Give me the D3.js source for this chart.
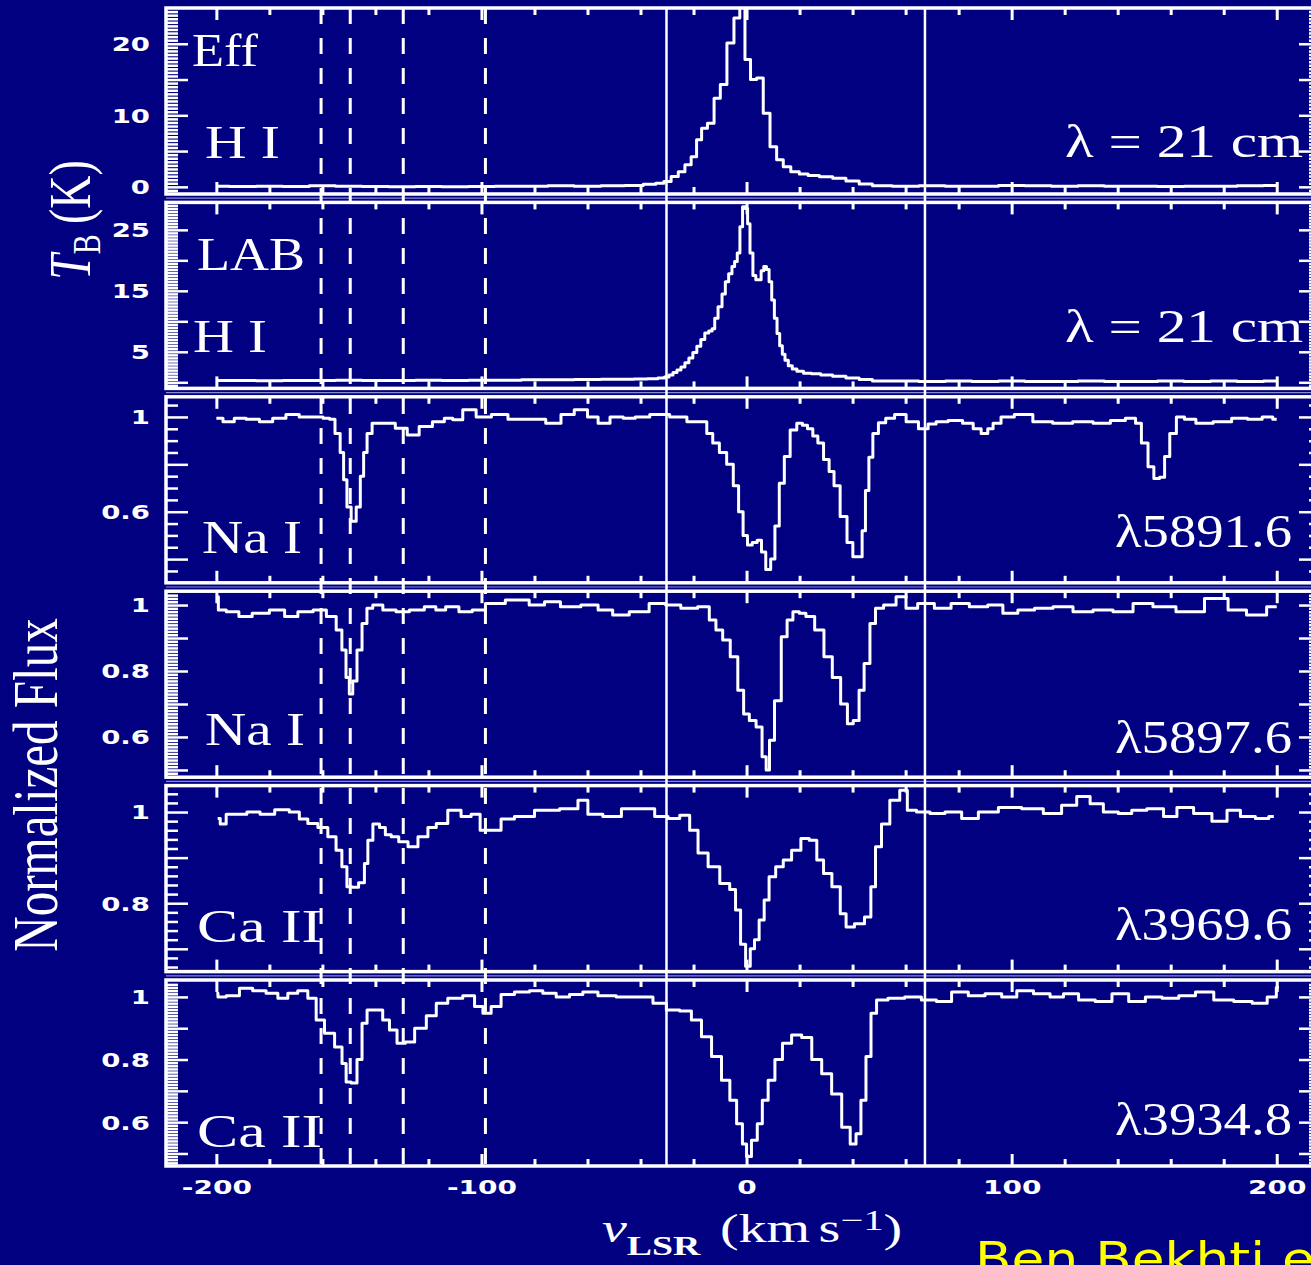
<!DOCTYPE html>
<html>
<head>
<meta charset="utf-8">
<script src="https://cdn.jsdelivr.net/npm/d3@7"></script>
<style>
  body { margin: 0; background: #000080; }
  svg { display: block; }
</style>
</head>
<body>
<svg width="1311" height="1265"></svg>
<script>
// ---- data: [v_LSR (km/s), value] ----
const effHI = [[-200,0.1],[-190,0.05],[-180,0.1],[-170,0.05],[-160,0.15],[-150,0.1],[-140,0.05],[-130,0],[-120,0.05],[-110,0],[-100,0.05],[-90,0.1],[-80,0.1],[-70,0.15],[-60,0.1],[-50,0.15],[-42,0.2],[-36,0.35],[-32.5,0.5],[-29.9,0.74],[-27,1.44],[-24.5,2.1],[-22,3.1],[-19.8,4.2],[-17.9,6.6],[-16,8.2],[-13.5,8.9],[-11,12.4],[-8.8,14.3],[-6,20.1],[-3.5,23.6],[-1.6,26],[0.4,17.8],[2.6,15],[5,15.2],[7.6,10.3],[10.1,5.6],[12.6,3.8],[15.1,2.8],[18.3,2.1],[21.5,1.8],[25,1.6],[30,1.4],[35,1.2],[40,0.8],[45,0.4],[50,0.15],[60,0.1],[70,0.15],[80,0.1],[90,0.1],[100,0.2],[110,0.15],[120,0.1],[130,0.15],[140,0.1],[150,0.1],[160,0.05],[170,0.1],[180,0.1],[190,0.15],[200,0.2]];

const labHI = [[-200,0.3],[-190,0.3],[-180,0.25],[-170,0.3],[-160,0.3],[-150,0.35],[-140,0.3],[-130,0.3],[-120,0.35],[-110,0.3],[-100,0.35],[-90,0.35],[-80,0.4],[-70,0.4],[-60,0.45],[-50,0.5],[-45,0.5],[-40,0.55],[-35,0.6],[-32,0.7],[-30,0.85],[-28.5,1.2],[-27,1.6],[-25.5,2.0],[-24,2.5],[-22.5,3.2],[-21,4.0],[-19.5,4.9],[-18,5.9],[-16.5,7.0],[-15,8.1],[-13.5,8.4],[-12.5,8.8],[-11.5,10.5],[-10,12.4],[-8.5,14.5],[-7.5,16.5],[-6,17.8],[-5,19.0],[-4,19.8],[-3,21.2],[-2,25.5],[-1,28.8],[0,28.5],[0.8,26],[1.8,21.2],[3,17.5],[4,16.8],[5,16.8],[6,18.3],[7,19.0],[8,18.5],[9,16.5],[10,13.5],[11,10.5],[12,8.0],[13,6.0],[14,4.6],[15,3.6],[16.5,2.7],[18,2.2],[20,1.8],[23,1.5],[26,1.4],[30,1.2],[35,1.0],[40,0.7],[45,0.45],[50,0.2],[60,0.2],[70,0.15],[80,0.2],[90,0.15],[100,0.2],[110,0.15],[120,0.15],[130,0.2],[140,0.15],[150,0.15],[160,0.2],[170,0.15],[180,0.2],[190,0.15],[200,0.2]];

const naD2 = [[-200,0.995],[-195,0.98],[-191.5,0.995],[-186,0.99],[-181.5,0.98],[-176,0.995],[-171.5,1.01],[-166,1.0],[-161.5,1.0],[-158,0.995],[-156.5,0.99],[-154,0.93],[-152.6,0.85],[-151.4,0.735],[-150.1,0.62],[-148.2,0.56],[-146.3,0.62],[-145.1,0.75],[-143.8,0.85],[-142.5,0.93],[-140,0.973],[-135,0.973],[-130,0.952],[-126,0.924],[-121,0.96],[-116,0.98],[-112,0.995],[-109.6,0.988],[-104.5,1.03],[-99.5,1.0],[-93,1.01],[-87,0.99],[-79.5,0.99],[-72,0.973],[-68,1.01],[-62,1.03],[-58,1.0],[-54,0.973],[-49,1.0],[-44,0.995],[-40,1.0],[-33,1.01],[-25,1.0],[-20,0.98],[-16,0.98],[-14,0.93],[-11.5,0.89],[-9,0.85],[-6,0.8],[-4,0.71],[-2,0.6],[-0.6,0.5],[1.3,0.46],[3,0.47],[5,0.48],[6.3,0.43],[8.2,0.356],[10,0.4],[11.4,0.54],[13.3,0.72],[15.2,0.833],[17.7,0.945],[20.2,0.973],[22,0.965],[24,0.95],[26,0.92],[27.8,0.89],[30.3,0.82],[32,0.77],[34,0.71],[36.6,0.58],[39.2,0.47],[41,0.41],[43,0.41],[44.2,0.52],[45.5,0.69],[46.8,0.83],[48.5,0.93],[51,0.975],[54,0.995],[57.7,1.01],[62.7,0.98],[67,0.95],[70,0.97],[73,0.98],[79,0.985],[84,0.973],[87,0.95],[90,0.93],[92,0.95],[94,0.973],[98,1.0],[104,1.01],[112,0.98],[119,0.973],[127,0.98],[134.5,0.973],[140,0.985],[145.8,0.995],[147.7,0.973],[150.2,0.89],[152.7,0.79],[154.6,0.74],[157,0.745],[158.4,0.833],[160.9,0.93],[163.4,1.0],[167,0.99],[172,0.973],[180,0.98],[186,0.995],[192,0.99],[197,1.0],[200,0.99]];

const naD1 = [[-200,1.025],[-198.5,0.985],[-194,0.98],[-189,0.965],[-184,0.975],[-176,0.985],[-172.5,0.965],[-166,0.98],[-161,0.985],[-156,0.965],[-153.6,0.924],[-151.7,0.864],[-150.5,0.78],[-149.2,0.73],[-147.9,0.77],[-146,0.864],[-144.1,0.944],[-142.3,0.99],[-139.7,1.0],[-134.7,0.985],[-129.7,0.98],[-124.7,0.985],[-118.4,0.995],[-116,0.985],[-111,0.995],[-106,0.98],[-101,0.985],[-96,1.005],[-86,1.015],[-78,1.0],[-74.4,1.01],[-66,0.995],[-59,1.0],[-53,0.985],[-48,0.97],[-40.5,0.98],[-33,1.005],[-28,1.0],[-21.6,0.99],[-15.3,0.995],[-12.8,0.955],[-10.3,0.924],[-7.7,0.894],[-4.6,0.843],[-2,0.742],[-0.2,0.67],[2.3,0.65],[4.9,0.63],[6.8,0.54],[8,0.5],[9.3,0.59],[11.8,0.71],[14.4,0.904],[16.2,0.955],[18.8,0.98],[21,0.975],[23.8,0.965],[27.6,0.924],[30.8,0.843],[33.9,0.78],[37.1,0.7],[39,0.64],[41.5,0.65],[43.4,0.742],[45.3,0.823],[47.8,0.944],[49.5,0.99],[53.9,1.0],[58.9,1.025],[61.4,0.99],[67.7,1.005],[74,0.99],[80.3,1.005],[87.8,0.995],[94.2,1.0],[99.2,0.975],[105.5,0.985],[111.8,0.99],[119.4,0.995],[126.9,0.98],[134.5,0.985],[142,0.98],[149.6,1.005],[157,0.995],[167,0.98],[178.5,1.02],[184.8,0.985],[192.4,0.97],[200,0.995]];

const caH = [[-199.5,0.986],[-197.6,0.974],[-195,0.995],[-191,0.995],[-186,1.0],[-181,0.995],[-175,1.005],[-170,1.0],[-167.4,0.985],[-163.6,0.975],[-159.8,0.966],[-156.1,0.946],[-153.6,0.916],[-151.7,0.88],[-149.8,0.836],[-147.9,0.835],[-144.8,0.845],[-143.5,0.887],[-142.2,0.938],[-139.7,0.974],[-137.2,0.966],[-135.3,0.95],[-132.8,0.946],[-129.6,0.935],[-125.8,0.924],[-122.1,0.946],[-118.3,0.966],[-115.8,0.975],[-109.6,1.004],[-105.8,0.99],[-102,0.995],[-99,0.96],[-94.5,0.96],[-90.7,0.985],[-84.4,0.99],[-75.6,1.004],[-65.5,1.007],[-61.7,1.026],[-58,0.995],[-50.4,0.99],[-44,1.007],[-37.8,1.007],[-31.5,0.99],[-27.7,0.986],[-22.7,0.993],[-20.2,0.96],[-16.4,0.91],[-12.6,0.88],[-7.6,0.843],[-5.1,0.83],[-3.2,0.785],[-1.3,0.71],[0.6,0.662],[2.2,0.7],[3.8,0.72],[5.7,0.763],[7.6,0.807],[9.4,0.858],[12.6,0.88],[15.1,0.895],[18.9,0.916],[22.1,0.942],[25.2,0.938],[27.8,0.895],[30.3,0.865],[34.1,0.836],[36.6,0.777],[38.5,0.748],[42.9,0.755],[46.1,0.77],[47.7,0.836],[49.6,0.924],[52.2,0.974],[55.9,1.026],[59.7,1.048],[61.6,1.004],[66.7,1.0],[71.7,0.997],[78,1.0],[84.3,0.986],[90.6,1.0],[99.4,1.01],[108.2,1.007],[115.7,0.997],[122,1.015],[127.1,1.034],[132.1,1.018],[137.1,1.0],[143.4,0.997],[147.2,1.004],[154.8,1.007],[159.8,0.99],[164.9,1.01],[172.4,0.997],[178.7,0.98],[183.8,1.004],[188.8,0.99],[195.1,0.986],[198.9,0.99]];

const caK = [[-200,1.012],[-198.8,1.0],[-193.8,1.004],[-188.8,1.028],[-183.8,1.02],[-178.7,1.012],[-174.9,0.996],[-171.2,1.012],[-167.4,1.02],[-163.6,0.996],[-161.1,0.926],[-157.3,0.884],[-153.5,0.84],[-151.7,0.787],[-150.4,0.728],[-147.9,0.725],[-146,0.8],[-144.1,0.916],[-142.2,0.958],[-138.5,0.958],[-136,0.926],[-133.4,0.894],[-130.3,0.852],[-127.1,0.856],[-123.3,0.9],[-118.3,0.94],[-115.8,0.98],[-109.6,0.996],[-104.5,1.004],[-100.7,0.969],[-98.2,0.948],[-94.5,0.969],[-90.7,1.008],[-84.4,1.016],[-79.4,1.02],[-74.3,1.012],[-69.3,1.0],[-64.3,1.008],[-59.2,1.016],[-52.9,1.004],[-45.4,1.0],[-37.8,1.0],[-32.8,0.98],[-27.7,0.958],[-22.7,0.955],[-18.9,0.926],[-15.1,0.873],[-11.3,0.81],[-7.6,0.734],[-5,0.67],[-2.5,0.595],[-0.6,0.53],[0.6,0.49],[3.1,0.542],[5,0.595],[6.9,0.67],[9.4,0.734],[12,0.8],[15.1,0.852],[18.9,0.878],[22.7,0.87],[26.5,0.8],[30.2,0.755],[34,0.69],[37.8,0.584],[40.4,0.53],[42.2,0.563],[44.1,0.67],[46,0.81],[47.9,0.948],[50.2,0.99],[56.5,0.996],[62.8,1.0],[69.1,0.99],[74.2,0.985],[80.5,1.016],[86.8,1.004],[93.1,1.01],[99.4,1.0],[104.5,1.02],[112,1.01],[117,1.0],[122.1,1.01],[128.4,0.99],[134.7,0.985],[141,1.01],[147.3,0.985],[153.6,1.0],[159.9,0.996],[166.2,1.004],[172.5,1.016],[180,0.99],[187.6,0.985],[193.9,0.98],[198.9,1.0],[200.8,1.03]];

// panel texts
const leftNames = [["Eff", "H I"], ["LAB", "H I"], ["Na I"], ["Na I"], ["Ca II"], ["Ca II"]];
const rightNames = ["λ = 21 cm", "λ = 21 cm", "λ5891.6", "λ5897.6", "λ3969.6", "λ3934.8"];

// y ticks (major) and the ones that carry a label
const yMajor = [[0, 5, 10, 15, 20], [0, 5, 10, 15, 20, 25], [0.4, 0.6, 0.8, 1], [0.5, 0.6, 0.7, 0.8, 0.9, 1], [0.7, 0.8, 0.9, 1], [0.5, 0.6, 0.7, 0.8, 0.9, 1]];
const yLabelled = [[0, 10, 20], [5, 15, 25], [0.6, 1], [0.6, 0.8, 1], [0.8, 1], [0.6, 0.8, 1]];

const xMajor = [-200, -100, 0, 100, 200];
const xMinor = [-180, -160, -140, -120, -80, -60, -40, -20, 20, 40, 60, 80, 120, 140, 160, 180];

// velocity markers
const solidMarks = [-30.2, 67.3];
const dashedMarks = [-160.5, -149.5, -129.5, -98.5];

// ---- layout ----
var svg = d3.select("svg");
var width = +svg.attr("width");
var height = +svg.attr("height");
var WHITE = "#ffffff";
var SERIF = "'Liberation Serif', 'Times New Roman', serif";
var TICKFONT = "'DejaVu Sans', sans-serif";

var x0 = 166, x1 = 1321;
var panelTop0 = 8, panelStep = 194.4, panelH = 186;

var panels = [
    {data: effHI, domain: [-1, 25], minor: 0.5},
    {data: labHI, domain: [-1, 29.5], minor: 0.5},
    {data: naD2, domain: [0.3, 1.085], minor: 0.05},
    {data: naD1, domain: [0.478, 1.042], minor: 0.01},
    {data: caH, domain: [0.65, 1.058], minor: 0.02},
    {data: caK, domain: [0.46, 1.054], minor: 0.01}
];

// where the in-panel names sit: [x, baseline, width]
var leftPos = [[[192, 66, 66], [205, 158, 75]], [[197, 270, 108], [193, 352, 74]], [[202, 553, 100]], [[205, 745, 100]], [[197, 942, 125]], [[197, 1147, 125]]];
var rightPos = [[1065, 157, 238], [1065, 342, 238], [1115, 547, 177], [1115, 753, 177], [1115, 940, 177], [1115, 1135, 177]];

svg.append("rect")
    .attr("width", width)
    .attr("height", height)
    .attr("fill", "#000080");

var x = d3.scaleLinear().domain([-219, 216.7]).range([x0, x1]);

var fmtTick = d => d < 0 ? "-" + (-d) : String(d);

// thin lavender seams between the panels
for (var i = 0; i < panels.length - 1; i++) {
    var ys = panelTop0 + i * panelStep + panelH + (panelStep - panelH) / 2;
    svg.append("line")
        .attr("x1", x0).attr("x2", x1)
        .attr("y1", ys).attr("y2", ys)
        .attr("stroke", "#8a8ad4")
        .attr("stroke-width", 1.2);
}

var defs = svg.append("defs");

panels.forEach(function (p, i) {
    var top = panelTop0 + i * panelStep;
    var bottom = top + panelH;
    var y = d3.scaleLinear().domain(p.domain).range([bottom, top]);

    defs.append("clipPath")
        .attr("id", "clip" + i)
        .append("rect")
        .attr("x", x0).attr("y", top)
        .attr("width", x1 - x0).attr("height", panelH);

    var g = svg.append("g").attr("class", "panel");

    // spectrum
    var line = d3.line()
        .x(d => x(d[0]))
        .y(d => y(d[1]))
        .curve(d3.curveStep);

    g.append("path")
        .datum(p.data)
        .attr("clip-path", "url(#clip" + i + ")")
        .attr("d", line)
        .attr("fill", "none")
        .attr("stroke", WHITE)
        .attr("stroke-width", 3)
        .attr("stroke-linejoin", "round");

    // minor y ticks (skip majors and the frame edges)
    var lo = Math.ceil(p.domain[0] / p.minor), hi = Math.floor(p.domain[1] / p.minor);
    var minor = d3.range(lo, hi + 1)
        .map(k => +(k * p.minor).toFixed(4))
        .filter(v => !yMajor[i].some(t => Math.abs(t - v) < 1e-6))
        .filter(v => y(v) > top + 2 && y(v) < bottom - 2);
    var major = yMajor[i].filter(v => y(v) > top + 2 && y(v) < bottom - 2);

    function yAxis(axisFn, xpos, vals, size, labelled) {
        var a = g.append("g")
            .attr("transform", "translate(" + xpos + ",0)")
            .style("color", WHITE)
            .call(axisFn(y).tickValues(vals).tickSize(-size)
                .tickFormat(d => labelled && yLabelled[i].some(t => Math.abs(t - d) < 1e-6) ? fmtTick(d) : ""));
        // the axis sets its own font, override afterwards
        a.attr("font-family", TICKFONT)
            .attr("font-weight", "bold")
            .attr("font-size", 19);
        a.select(".domain").remove();
        a.selectAll("line").attr("stroke-width", 2.5);
        a.selectAll("text")
            .attr("x", null)
            .attr("dy", "0.36em")
            .attr("transform", "translate(-16,0) scale(1.45,1)");
    }
    yAxis(d3.axisLeft, x0, minor, 12, false);
    yAxis(d3.axisLeft, x0, major, 22, true);
    yAxis(d3.axisRight, x1, minor, 12, false);
    yAxis(d3.axisRight, x1, major, 22, false);

    // x ticks on top and bottom edges
    function xAxis(axisFn, ypos, vals, size, labelled) {
        var a = g.append("g")
            .attr("transform", "translate(0," + ypos + ")")
            .style("color", WHITE)
            .call(axisFn(x).tickValues(vals).tickSize(-size)
                .tickFormat(labelled ? fmtTick : ""));
        a.attr("font-family", TICKFONT)
            .attr("font-weight", "bold")
            .attr("font-size", 20);
        a.select(".domain").remove();
        a.selectAll("line").attr("stroke-width", 3);
        a.selectAll("text")
            .attr("y", 0)
            .attr("dy", "0.36em")
            .attr("transform", "translate(0,21) scale(1.4,1)");
    }
    var last = i === panels.length - 1;
    xAxis(d3.axisBottom, bottom, xMinor, 7, false);
    xAxis(d3.axisBottom, bottom, xMajor, 12, last);
    xAxis(d3.axisTop, top, xMinor, 7, false);
    xAxis(d3.axisTop, top, xMajor, 12, false);

    // frame
    g.append("rect")
        .attr("x", x0).attr("y", top)
        .attr("width", x1 - x0).attr("height", panelH)
        .attr("fill", "none")
        .attr("stroke", WHITE)
        .attr("stroke-width", 3.5);

    // names
    leftNames[i].forEach(function (name, j) {
        var pos = leftPos[i][j];
        g.append("text")
            .attr("x", pos[0]).attr("y", pos[1])
            .attr("font-family", SERIF)
            .attr("font-size", 47)
            .attr("fill", WHITE)
            .attr("textLength", pos[2])
            .attr("lengthAdjust", "spacingAndGlyphs")
            .text(name);
    });
    g.append("text")
        .attr("x", rightPos[i][0]).attr("y", rightPos[i][1])
        .attr("font-family", SERIF)
        .attr("font-size", 46)
        .attr("fill", WHITE)
        .attr("textLength", rightPos[i][2])
        .attr("lengthAdjust", "spacingAndGlyphs")
        .text(rightNames[i]);
});

// velocity marker lines over all panels
var yTop = panelTop0, yBot = panelTop0 + 5 * panelStep + panelH;
svg.selectAll(".solid")
    .data(solidMarks)
    .enter().append("line")
    .attr("class", "solid")
    .attr("x1", d => x(d)).attr("x2", d => x(d))
    .attr("y1", yTop).attr("y2", yBot)
    .attr("stroke", WHITE)
    .attr("stroke-width", 2.5);

svg.selectAll(".dashed")
    .data(dashedMarks)
    .enter().append("line")
    .attr("class", "dashed")
    .attr("x1", d => x(d)).attr("x2", d => x(d))
    .attr("y1", yTop).attr("y2", yBot)
    .attr("stroke", WHITE)
    .attr("stroke-width", 3)
    .attr("stroke-dasharray", "16,14");

// axis titles
var xt = svg.append("text")
    .attr("transform", "translate(602,1242) scale(1.4,1)")
    .attr("font-family", SERIF)
    .attr("font-size", 40)
    .attr("fill", WHITE);
xt.append("tspan").attr("font-style", "italic").text("v");
xt.append("tspan").attr("font-size", 27).attr("font-weight", "bold").attr("dy", 13).text("LSR");
xt.append("tspan").attr("dx", 14).attr("dy", -13).text("(km");
xt.append("tspan").attr("dx", 6).text("s");
xt.append("tspan").attr("font-size", 29).attr("dy", -12).text("\u22121");
xt.append("tspan").attr("dy", 12).text(")");

var tb = svg.append("text")
    .attr("transform", "translate(90,220) scale(1.3,1) rotate(-90)")
    .attr("text-anchor", "middle")
    .attr("font-family", SERIF)
    .attr("font-size", 46)
    .attr("fill", WHITE);
tb.append("tspan").attr("font-style", "italic").text("T");
tb.append("tspan").attr("font-size", 30).attr("dy", 8).text("B");
tb.append("tspan").attr("dy", -8).attr("dx", 10).text("(K)");

svg.append("text")
    .attr("transform", "translate(57,785) scale(1.28,1) rotate(-90)")
    .attr("text-anchor", "middle")
    .attr("font-family", SERIF)
    .attr("font-size", 49)
    .attr("fill", WHITE)
    .text("Normalized Flux");

// credit line, runs off the page as in the original slide
svg.append("text")
    .attr("transform", "translate(975,1275) scale(1.16,1)")
    .attr("font-family", "'DejaVu Sans', sans-serif")
    .attr("font-size", 46)
    .attr("fill", "#ffff00")
    .text("Ben Bekhti et al. 2008");
</script>
</body>
</html>
